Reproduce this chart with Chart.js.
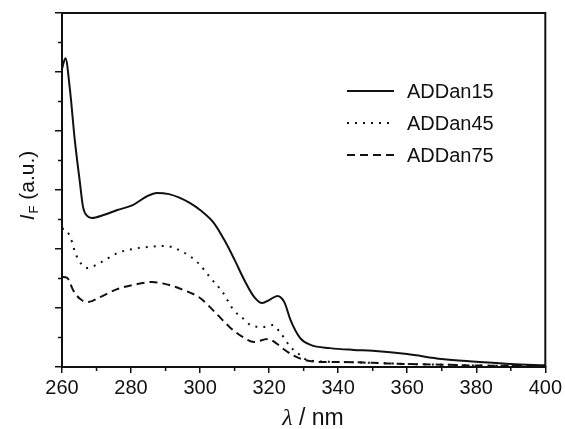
<!DOCTYPE html>
<html>
<head>
<meta charset="utf-8">
<title>Fluorescence spectra</title>
<script src="https://cdn.jsdelivr.net/npm/chart.js@4/dist/chart.umd.min.js"></script>
<style>
  body { margin: 0; background: #fff; }
  #wrap { width: 565px; height: 429px; }
</style>
</head>
<body>
<div id="wrap"><canvas id="chart" width="565" height="429"></canvas></div>
<script>
// values (wavelength in nm, intensity in arbitrary units)
const seriesNames = ['ADDan15', 'ADDan45', 'ADDan75'];

const lambda15 = [260, 261, 262.3, 263.7, 265.2, 266.1, 267.3, 268.7, 272, 276, 280.5, 284.5, 287.5, 291, 294, 297, 300, 304, 307, 310, 312.8, 315.7, 318, 320, 322.4, 324.4, 326.2, 329, 332, 337.6, 344.5, 350, 360, 370, 380, 390, 400];
const int15 = [10.1, 10.47, 9.4, 7.7, 6.24, 5.42, 5.12, 5.05, 5.15, 5.32, 5.49, 5.78, 5.9, 5.86, 5.74, 5.56, 5.32, 4.88, 4.31, 3.63, 2.95, 2.37, 2.17, 2.27, 2.41, 2.2, 1.59, 0.98, 0.75, 0.64, 0.58, 0.55, 0.44, 0.27, 0.18, 0.1, 0.06];

const lambda45 = [260, 261.5, 262.9, 263.75, 265.8, 267.5, 271, 276, 280.5, 285, 290, 295, 299.4, 303, 306.5, 309.7, 312.3, 314.6, 318.4, 321, 323.3, 326.2, 328.3, 331, 340, 350, 360, 370, 380, 390, 400];
const int45 = [4.7, 4.6, 4.24, 3.9, 3.46, 3.36, 3.53, 3.86, 4.0, 4.07, 4.1, 3.9, 3.53, 3.02, 2.54, 1.93, 1.66, 1.42, 1.36, 1.42, 1.15, 0.68, 0.47, 0.24, 0.17, 0.14, 0.1, 0.08, 0.05, 0.04, 0.03];

const lambda75 = [260, 261.5, 263.2, 265.2, 267.5, 271, 276, 280.5, 286, 290, 295.2, 300, 304.3, 308.5, 312.3, 315.7, 319.5, 322, 323.8, 326.7, 330.2, 335.4, 340, 350, 360, 370, 380, 390, 400];
const int75 = [3.05, 3.02, 2.61, 2.31, 2.2, 2.37, 2.64, 2.78, 2.88, 2.81, 2.61, 2.34, 1.86, 1.36, 1.02, 0.85, 0.95, 0.81, 0.64, 0.41, 0.24, 0.17, 0.17, 0.14, 0.1, 0.08, 0.05, 0.04, 0.03];

const xMajorTicks = [260, 280, 300, 320, 340, 360, 380, 400];
const xMinorTicks = [270, 290, 310, 330, 350, 370, 390];
const yMinorTicks = [1, 3, 5, 7, 9, 11];

const toPoints = (xs, ys) => xs.map((x, i) => ({ x: x, y: ys[i] }));

Chart.defaults.font.family = '"Liberation Sans", Arial, sans-serif';
Chart.defaults.color = '#111';

// box, minor ticks, legend and axis titles
const decorations = {
  id: 'decorations',
  afterDraw(chart) {
    const { ctx, chartArea: a, scales } = chart;
    ctx.save();
    ctx.strokeStyle = '#111';
    ctx.fillStyle = '#111';

    // top and right frame
    ctx.lineWidth = 2;
    ctx.beginPath();
    ctx.moveTo(a.left - 1, a.top);
    ctx.lineTo(a.right, a.top);
    ctx.lineTo(a.right, a.bottom);
    ctx.stroke();

    // minor ticks
    ctx.lineWidth = 1.5;
    ctx.beginPath();
    xMinorTicks.forEach(v => {
      const px = scales.x.getPixelForValue(v);
      ctx.moveTo(px, a.bottom);
      ctx.lineTo(px, a.bottom + 4);
    });
    yMinorTicks.forEach(v => {
      const py = scales.y.getPixelForValue(v);
      ctx.moveTo(a.left, py);
      ctx.lineTo(a.left - 4, py);
    });
    ctx.stroke();

    // legend
    ctx.font = '20px "Liberation Sans", Arial, sans-serif';
    ctx.textBaseline = 'middle';
    ctx.textAlign = 'left';
    chart.data.datasets.forEach((ds, i) => {
      const y = 91 + i * 32;
      ctx.lineWidth = ds.borderWidth;
      ctx.setLineDash(ds.borderDash || []);
      ctx.beginPath();
      ctx.moveTo(347, y);
      ctx.lineTo(394, y);
      ctx.stroke();
      ctx.setLineDash([]);
      ctx.fillText(ds.label, 407, y + 1);
    });

    // y title: I_F (a.u.)
    ctx.save();
    ctx.translate(34, 186);
    ctx.rotate(-Math.PI / 2);
    ctx.textBaseline = 'alphabetic';
    const fI = 'italic 21px "Liberation Sans", Arial, sans-serif';
    const fSub = '13px "Liberation Sans", Arial, sans-serif';
    const fMain = '21px "Liberation Sans", Arial, sans-serif';
    ctx.font = fI; const wI = ctx.measureText('I').width;
    ctx.font = fSub; const wF = ctx.measureText('F').width;
    ctx.font = fMain; const wRest = ctx.measureText(' (a.u.)').width;
    let x0 = -(wI + wF + wRest) / 2;
    ctx.font = fI; ctx.fillText('I', x0, 0); x0 += wI + 1;
    ctx.font = fSub; ctx.fillText('F', x0, 4); x0 += wF;
    ctx.font = fMain; ctx.fillText(' (a.u.)', x0, 0);
    ctx.restore();

    // x title: λ / nm
    ctx.textBaseline = 'alphabetic';
    const fLam = 'italic 24px "Liberation Serif", "Times New Roman", serif';
    const fUnit = '23px "Liberation Sans", Arial, sans-serif';
    ctx.font = fLam; const wL = ctx.measureText('\u03bb').width;
    ctx.font = fUnit; const wU = ctx.measureText(' / nm').width;
    let xs = 313 - (wL + wU) / 2;
    ctx.font = fLam; ctx.fillText('\u03bb', xs, 425);
    ctx.font = fUnit; ctx.fillText(' / nm', xs + wL, 425);

    ctx.restore();
  }
};

new Chart(document.getElementById('chart'), {
  type: 'line',
  data: {
    datasets: [
      {
        label: seriesNames[0],
        data: toPoints(lambda15, int15),
        borderColor: '#111',
        borderWidth: 2,
        borderDash: [],
      },
      {
        label: seriesNames[1],
        data: toPoints(lambda45, int45),
        borderColor: '#111',
        borderWidth: 2,
        borderDash: [2, 6],
      },
      {
        label: seriesNames[2],
        data: toPoints(lambda75, int75),
        borderColor: '#111',
        borderWidth: 2,
        borderDash: [8, 5],
      },
    ],
  },
  options: {
    responsive: false,
    animation: false,
    layout: { padding: { top: 13, right: 18, left: 0, bottom: 0 } },
    elements: {
      point: { radius: 0 },
      line: { cubicInterpolationMode: 'monotone', fill: false },
    },
    scales: {
      x: {
        type: 'linear',
        min: 260,
        max: 400,
        afterBuildTicks: (scale) => {
          scale.ticks = xMajorTicks.map(v => ({ value: v }));
        },
        afterFit: (scale) => { scale.height = 62; },
        border: { color: '#111', width: 2 },
        grid: { drawOnChartArea: false, color: '#111', tickLength: 6, lineWidth: 1.5 },
        ticks: { font: { size: 20 }, color: '#111', padding: 3, maxRotation: 0 },
      },
      y: {
        min: 0,
        max: 12,
        afterFit: (scale) => { scale.width = 62; },
        border: { color: '#111', width: 2 },
        grid: { drawOnChartArea: false, color: '#111', tickLength: 7, lineWidth: 1.5 },
        ticks: { display: false, stepSize: 2 },
      },
    },
    plugins: {
      legend: { display: false },
      tooltip: { enabled: false },
    },
  },
  plugins: [decorations],
});
</script>
</body>
</html>
